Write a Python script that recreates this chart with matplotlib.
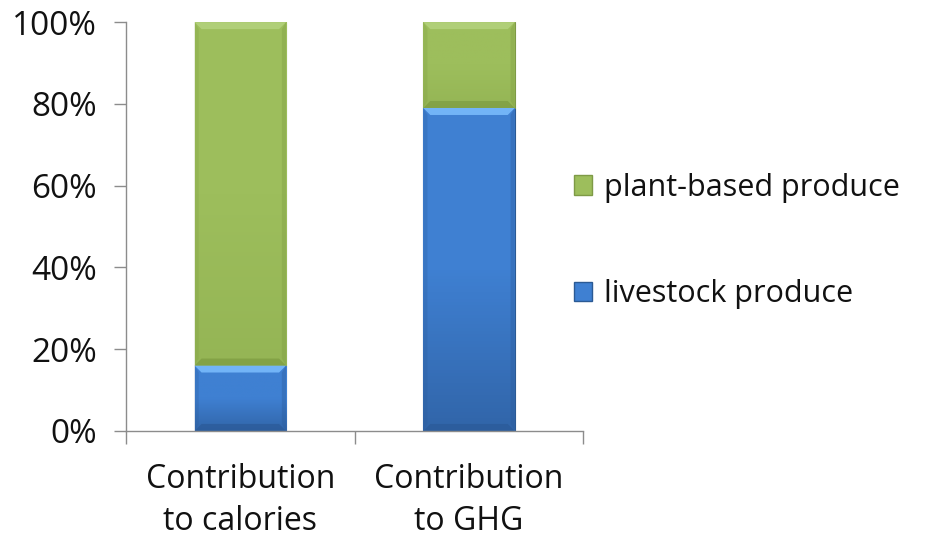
import numpy as np
import matplotlib
matplotlib.use("Agg")
import matplotlib.pyplot as plt
from matplotlib.patches import Polygon
from matplotlib.ticker import FixedLocator, PercentFormatter
from matplotlib.colors import LinearSegmentedColormap, to_rgb

plt.rcParams['font.family'] = ['Open Sans', 'DejaVu Sans']

categories = ["Contribution\nto calories", "Contribution\nto GHG"]
livestock = [0.16, 0.79]
plant = [0.84, 0.21]
series_names = ["livestock produce", "plant-based produce"]

# body colour, top highlight, lower shade, edge, shading strength
blue = ("#3F80D2", "#72B4F7", "#2B5A98", "#2B5A94", 0.7)
green = ("#9DBE5C", "#B0CF78", "#7C9B40", "#7E9A46", 0.25)

fig = plt.figure(figsize=(9.26, 5.4), dpi=100)
ax = fig.add_axes([0.136, 0.202, 0.494, 0.757])
ax.set_xlim(-0.5, 1.5)
ax.set_ylim(0, 1)

x = np.arange(len(categories))
width = 0.4

# pixel -> data scale for bevel sizes
px_x = 2.0 / (0.494 * 926)
px_y = 1.0 / (0.757 * 540)


def mix(c1, c2, t):
    a, b = np.array(to_rgb(c1)), np.array(to_rgb(c2))
    return tuple(a * (1 - t) + b * t)


def bevel_bar(ax, xc, bottom, height, cols):
    body, light, dark, edge, k = cols
    x0, x1 = xc - width / 2, xc + width / 2
    y0, y1 = bottom, bottom + height
    bars = ax.bar(xc, height, width, bottom=bottom, color=body,
                  edgecolor=edge, linewidth=0.8, zorder=2)
    rect = bars[0]
    # vertical shading: darker toward the bottom of each segment
    cmap = LinearSegmentedColormap.from_list("g", [mix(body, dark, k), body, body])
    grad = np.linspace(0, 1, 100).reshape(-1, 1)
    im = ax.imshow(grad, extent=(x0, x1, y0, y1), origin="lower",
                   cmap=cmap, aspect="auto", zorder=2.1)
    im.set_clip_path(rect)
    b = 7
    dx, dy = b * px_x, b * px_y
    dy = min(dy, height / 3)
    top = Polygon([(x0, y1), (x1, y1), (x1 - dx, y1 - dy), (x0 + dx, y1 - dy)],
                  closed=True, facecolor=light, edgecolor="none", zorder=2.2)
    bot = Polygon([(x0, y0), (x1, y0), (x1 - dx, y0 + dy), (x0 + dx, y0 + dy)],
                  closed=True, facecolor=dark, edgecolor="none", zorder=2.2, alpha=0.7)
    left = Polygon([(x0, y0), (x0, y1), (x0 + dx * 0.6, y1 - dy), (x0 + dx * 0.6, y0 + dy)],
                   closed=True, facecolor=dark, edgecolor="none", zorder=2.2, alpha=0.25)
    right = Polygon([(x1, y0), (x1, y1), (x1 - dx * 0.6, y1 - dy), (x1 - dx * 0.6, y0 + dy)],
                    closed=True, facecolor=dark, edgecolor="none", zorder=2.2, alpha=0.35)
    for p in (top, bot, left, right):
        ax.add_patch(p)
    ax.add_patch(Polygon(rect.get_verts(), closed=True, fill=False,
                         edgecolor=edge, linewidth=0.8, zorder=2.3))


for i in range(len(categories)):
    bevel_bar(ax, x[i], 0, livestock[i], blue)
    bevel_bar(ax, x[i], livestock[i], plant[i], green)

ax.set_xlim(-0.5, 1.5)
ax.set_ylim(0, 1)

for s in ("top", "right"):
    ax.spines[s].set_visible(False)
for s in ("left", "bottom"):
    ax.spines[s].set_color("#8C8C8C")
    ax.spines[s].set_linewidth(1.0)

ax.yaxis.set_major_locator(FixedLocator([0, 0.2, 0.4, 0.6, 0.8, 1.0]))
ax.yaxis.set_major_formatter(PercentFormatter(1.0, decimals=0))
ax.tick_params(axis="y", length=9, width=1.0, color="#8C8C8C",
               labelsize=24, pad=12, labelcolor="#111111")

ax.set_xticks(x)
ax.set_xticklabels(categories, fontsize=23, color="#111111", linespacing=1.35)
ax.tick_params(axis="x", which="major", length=0, pad=23)
ax.xaxis.set_minor_locator(FixedLocator([-0.5, 0.5, 1.5]))
ax.tick_params(axis="x", which="minor", length=9, width=1.0, color="#8C8C8C")

handles = [plt.Rectangle((0, 0), 1, 1, facecolor=green[0], edgecolor=green[3]),
           plt.Rectangle((0, 0), 1, 1, facecolor=blue[0], edgecolor=blue[3])]
fig.legend(handles, [series_names[1], series_names[0]],
           loc="center left", bbox_to_anchor=(0.59, 0.554), frameon=False,
           fontsize=22, labelspacing=2.5, handlelength=0.6, handleheight=0.6,
           handletextpad=0.4, labelcolor="#111111")

fig.savefig("out.png", dpi=100)
